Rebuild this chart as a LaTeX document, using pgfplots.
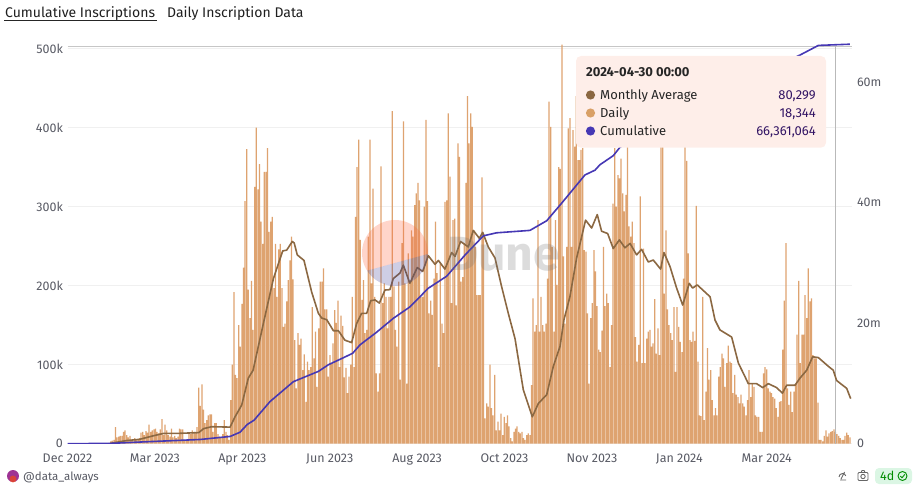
\documentclass[border=0pt]{standalone}
\usepackage{fontspec}
\setmainfont{Fira Sans}
\usepackage{pgfplots}
\pgfplotsset{compat=1.18}
\usepackage{xcolor}
\definecolor{monthly}{RGB}{139,104,66}
\definecolor{daily}{RGB}{222,163,112}
\definecolor{dailydot}{RGB}{217,160,102}
\definecolor{cumul}{RGB}{70,56,180}
\definecolor{ticktxt}{RGB}{88,90,100}
\definecolor{gridc}{RGB}{240,240,240}
\definecolor{tipbg}{RGB}{254,238,233}
\definecolor{tipval}{RGB}{50,20,100}
\definecolor{coral}{RGB}{255,105,65}
\definecolor{wmblue}{RGB}{60,60,150}
\newcommand{\tk}{\fontsize{12.5}{15}\selectfont}
\begin{document}
\begin{tikzpicture}[x=1pt,y=1pt]
\path[use as bounding box] (0,0) rectangle (914,491);
\begin{axis}[
  at={(67.5pt,47.3pt)}, anchor=south west, scale only axis,
  width=784pt, height=400.7pt,
  xmin=0, xmax=490, ymin=0, ymax=507.2,
  axis line style={draw=none}, tick style={draw=none},
  axis x line*=bottom, axis y line*=left,
  xtick={0,54.6,109.3,163.9,218.5,273.1,327.8,382.4,437},
  xticklabels={Dec 2022,Mar 2023,Apr 2023,Jun 2023,Aug 2023,Oct 2023,Nov 2023,Jan 2024,Mar 2024},
  ytick={0,100,200,300,400,500},
  yticklabels={0,100k,200k,300k,400k,500k},
  ymajorgrids, grid style={gridc, line width=.8pt},
  extra y ticks={503.4}, extra y tick labels={},
  extra y tick style={grid style={gray!45, line width=.8pt}},
  ticklabel style={font=\tk, text=ticktxt},
  yticklabel style={xshift=-1pt},
  xticklabel style={yshift=-7pt},
]
\addplot[ybar, bar width=1.25pt, fill=daily, draw=none] coordinates {
(26,1)(27,3)(28,4)(29,5)(30,21)(31,8)(32,9)(33,10)(34,10)(35,15)(36,17)(37,11)(38,8)(39,10)(40,5)(41,4)(42,7)(43,5)(44,5)(45,7)
(46,14)(47,15)(48,11)(49,16)(50,14)(51,24)(52,15)(53,17)(54,18)(55,19)(56,15)(57,13)(58,18)(59,31)(60,11)(61,24)(62,17)(63,11)(64,9)(65,19)
(66,8)(67,10)(68,7)(69,9)(70,19)(71,18)(72,18)(73,5)(74,4)(75,4)(76,13)(77,12)(78,17)(79,15)(80,13)(81,21)(82,71)(83,48)(84,75)(85,43)
(86,26)(87,30)(88,36)(89,37)(90,37)(91,15)(92,26)(93,26)(94,12)(95,9)(96,8)(97,12)(98,30)(99,15)(100,11)(101,5)(102,55)(103,100)(104,192)(105,87)
(106,83)(107,150)(108,123)(109,177)(110,223)(111,307)(112,373)(113,195)(114,159)(115,206)(116,144)(117,325)(118,400)(119,322)(120,354)(121,281)(122,253)(123,344)(124,344)(125,374)
(126,268)(127,281)(128,287)(129,197)(130,253)(131,186)(132,246)(133,253)(134,197)(135,148)(136,152)(137,180)(138,207)(139,232)(140,262)(141,208)(142,131)(143,70)(144,140)(145,125)
(146,133)(147,93)(148,113)(149,53)(150,104)(151,93)(152,97)(153,173)(154,108)(155,142)(156,72)(157,146)(158,205)(159,205)(160,222)(161,170)(162,170)(163,85)(164,112)(165,102)
(166,127)(167,169)(168,153)(169,181)(170,97)(171,162)(172,149)(173,84)(174,96)(175,64)(176,85)(177,100)
(178,186)(179,97)(180,287)(181,350)(182,385)(183,258)(184,182)(185,207)(186,140)(187,144)(188,262)(189,385)(190,203)(191,323)(192,186)(193,89)(194,66)(195,89)(196,351)(197,178)
(198,203)(199,186)(200,146)(201,186)(202,186)(203,421)(204,199)(205,144)(206,123)(207,205)(208,81)(209,254)(210,408)(211,203)(212,76)(213,241)(214,203)(215,270)(216,262)(217,302)
(218,317)(219,330)(220,308)(221,186)(222,186)(223,300)(224,410)(225,307)(226,165)(227,181)(228,163)(229,209)(230,281)(231,216)(232,97)(233,228)(234,152)(235,140)(236,306)(237,308)
(238,418)(239,338)(240,178)(241,283)(242,285)(243,175)(244,380)(245,363)(246,205)(247,211)(248,254)(249,330)(250,440)(251,380)(252,418)(253,401)(254,270)(255,249)(256,188)(257,188)
(258,188)(259,337)(260,266)(261,32)(262,51)(263,47)(264,100)(265,45)(266,36)(267,87)(268,17)(269,28)(270,17)(271,38)(272,11)(273,34)(274,26)(275,36)(276,22)(277,7)
(278,3)(279,15)(280,19)(281,22)(282,15)(283,13)(284,15)(285,7)(286,5)(287,11)(288,13)(289,11)(290,74)(291,184)(292,142)(293,150)(294,283)(295,142)(296,186)(297,150)
(298,142)(299,152)(300,209)(301,433)(302,401)(303,249)(304,142)(305,283)(306,201)(307,350)(308,348)(309,505)(310,237)(311,152)(312,249)(313,399)(314,412)(315,249)(316,397)(317,376)
(318,440)(319,359)(320,359)(321,372)(322,374)(323,245)(324,243)(325,165)(326,76)(327,159)(328,178)(329,245)(330,218)(331,174)(332,119)(333,116)(334,143)(335,249)(336,174)(337,190)
(338,178)(339,97)(340,150)(341,304)(342,374)(343,300)(344,340)
(345,336)(346,361)(347,317)(348,294)(349,315)(350,376)(351,275)(352,262)(353,281)(354,254)(355,135)(356,104)(357,125)(358,313)(359,102)(360,247)(361,102)(362,133)(363,142)(364,144)
(365,123)(366,127)(367,183)(368,114)(369,146)(370,112)(371,378)(372,378)(373,190)(374,270)(375,170)(376,150)(377,140)(378,131)(379,173)(380,91)(381,173)(382,148)(383,129)(384,116)
(385,209)(386,390)(387,358)(388,241)(389,131)(390,129)(391,142)(392,130)(393,301)(394,104)(395,36)(396,35)(397,186)(398,30)(399,66)(400,121)(401,81)(402,93)(403,55)(404,36)
(405,45)(406,36)(407,85)(408,97)(409,114)(410,108)(411,72)(412,102)(413,124)(414,104)(415,102)(416,64)(417,87)(418,62)(419,59)(420,51)(421,62)(422,51)(423,47)(424,36)
(425,55)(426,93)(427,59)(428,76)(429,72)(430,36)(431,34)(432,34)(433,15)(434,15)(435,89)(436,97)(437,94)(438,70)(439,66)(440,64)(441,59)(442,57)(443,45)(444,34)
(445,53)(446,54)(447,119)(448,181)(449,254)(450,70)(451,49)(452,66)(453,40)(454,66)(455,76)(456,138)(457,206)(458,102)(459,138)(460,138)(461,188)(462,159)(463,222)(464,180)
(465,184)(466,112)(467,108)(468,108)(469,52)(470,5)(471,5)(472,3)(473,10)(474,17)(475,9)(476,13)(477,15)(478,16)(479,18)(480,15)(481,12)(482,10)(483,7)(484,5)
(485,5)(486,10)(487,14)(488,11)(489,8)
};
% crosshair at 2024-04-30
\addplot[gray!55, line width=.8pt] coordinates {(479.7,0)(479.7,503.4)};
% monthly average
\addplot[monthly, line width=1.6pt, line join=round] coordinates {
(26.6,0.4)(37,4)(45,5.5)(53.6,10)(60,13)(68,13)(82,14)(85,19)(90,21.5)(101.6,21)(104.7,34)(108.9,49)(113,83)(116,93)(122.4,152)(128.7,209)(134.5,244)(137,245)(140.5,256)(141.7,254)(143.6,239)(147.8,232)(152.6,192)(156.8,165)(158.9,159)(162,157)(166.2,143)(169.3,143)(173.4,131)(177.6,128)
(180.7,152)(183.8,165)(187,165)(189.5,181)(192.2,182)(194.9,178)(198.4,194.5)(201.5,195)(203.6,209)(207.8,216)(209.9,226)(214,203)(218.6,223)(222,218)(225.5,238)(229.7,227)(231.8,232)(235.9,221)(240.1,242)(242.2,237)(245.7,256)(250.5,249)(253.6,270)(257.4,260)(259.5,267.5)(263,249)(267.2,235)(271.3,199)(275.5,165)(279.7,133)(284.9,68)(290.5,34)(294.3,51)(299.5,62)(303.6,97.5)(307.8,123)(310.3,157)(314,186)(318.2,235)(323.8,283)(327.6,273)(331.1,290)(333.8,269)(337.6,266)(341.1,247)(344.9,258)
(348.4,248)(351.6,253.5)(355.7,239)(358.8,246)(363,230)(366.1,232.5)(370.7,221)(372.8,242)(376.6,224)(380.7,197)(384.5,175.5)(388.6,203)(390.7,197)(393.6,201)(401.6,186)(404.7,156.5)(407.8,144)(415.1,135)(419.3,102)(423.4,85)(425.5,76)(430.7,76)(434.5,71)(438,76)(443.2,71)(446.8,64)(449.5,74)(454.7,74)(457.8,83)(462,93)(465.7,110)(469.3,109)(475.5,98)(478.6,93)(480.7,80)(487,70)(489.5,57)
};
\end{axis}
\begin{axis}[
  at={(67.5pt,47.3pt)}, anchor=south west, scale only axis,
  width=784pt, height=400.7pt,
  xmin=0, xmax=490, ymin=0, ymax=66.5,
  axis line style={draw=none}, tick style={draw=none},
  axis x line=none, axis y line*=right,
  ytick={0,20,40,60}, yticklabels={0,20m,40m,60m},
  ticklabel style={font=\tk, text=ticktxt},
  yticklabel style={xshift=2pt},
]
\addplot[cumul, line width=1.6pt, line join=round] coordinates {
(0,0)(26.6,0.05)(47.4,0.3)(82.8,0.7)(101.6,1.2)(107.8,1.9)(112.4,3.2)(116.6,3.9)(126.6,7)(137,9.35)(141.2,10.3)(156.8,12)(163,13.1)(170.3,14)(178.2,15)(182.8,16.4)(193.2,18.5)(203.6,20.8)(214,22.7)(225.5,25.8)(237,27.8)(248.4,31.3)(259.9,34.5)(268.2,35)(289,35.4)(299.5,37)(308.8,39.9)(323.4,44.6)(329.7,45.4)(332.8,46.3)(341.1,47.8)(345.3,49.2)(370,53)(400,57)(430,61)(457.8,64.5)(469.3,66.1)(489,66.3)
};
\end{axis}
% Dune watermark
\begin{scope}[shift={(395,238)}]
\clip (0,0) circle (33);
\fill[coral, opacity=.28] (-40,-21) -- (40,1) -- (40,40) -- (-40,40) -- cycle;
\fill[wmblue, opacity=.25] (-40,-21) -- (40,1) -- (40,-40) -- (-40,-40) -- cycle;
\end{scope}
\node[anchor=base west, inner sep=0, text=black!55, opacity=.25, font=\fontsize{48}{50}\selectfont\bfseries] at (447,221) {Dune};
% tooltip
\fill[tipbg, rounded corners=5pt] (576,343.3) rectangle (826,435);
\node[anchor=base west, inner sep=0, font=\fontsize{13}{15}\selectfont\bfseries, text=black!85] at (586,414) {2024-04-30 00:00};
\fill[monthly] (590.5,396) circle (4.6);
\fill[dailydot] (590.5,378) circle (4.6);
\fill[cumul] (590.5,360) circle (4.6);
\begin{scope}[every node/.style={inner sep=0, font=\fontsize{13}{15}\selectfont}]
\node[anchor=base west, text=black!85] at (600,391.5) {Monthly Average};
\node[anchor=base west, text=black!85] at (600,373.5) {Daily};
\node[anchor=base west, text=black!85] at (600,355.5) {Cumulative};
\node[anchor=base east, text=tipval] at (816,391.5) {80,299};
\node[anchor=base east, text=tipval] at (816,373.5) {18,344};
\node[anchor=base east, text=tipval] at (816,355.5) {66,361,064};
\end{scope}
% tabs
\node[anchor=base west, inner sep=0, font=\fontsize{14}{16}\selectfont, text=black!88] at (5,473) {Cumulative Inscriptions};
\draw[black!85, line width=.9pt] (4,470.2) -- (157,470.2);
\node[anchor=base west, inner sep=0, font=\fontsize{14}{16}\selectfont, text=black!88] at (167,473) {Daily Inscription Data};
% footer
\fill[purple!70!blue!80] (13,15) circle (6);
\fill[orange!60!red, opacity=.6] (13,12) circle (3.5);
\node[anchor=base west, inner sep=0, font=\fontsize{11.5}{14}\selectfont, text=ticktxt] at (23,10.5) {@data\_always};
% icons
\draw[black!60, line width=.9pt] (840,11) -- (846,11) (839,14) arc (180:20:3.5) (844.5,19) -- (841,12);
\draw[black!60, line width=.9pt, rounded corners=1pt] (858,10.5) rectangle (868,18.5);
\draw[black!60, line width=.9pt] (863,14.5) circle (2.2);
\draw[black!60, line width=.9pt] (861,18.5) -- (862,20.5) -- (864,20.5) -- (865,18.5);
\fill[green!50!teal!14, rounded corners=4pt] (875,7) rectangle (912,23);
\node[anchor=base west, inner sep=0, font=\fontsize{12.5}{15}\selectfont, text=green!55!black] at (880,10.5) {4d};
\draw[green!55!black, line width=.9pt] (902.5,15) circle (4.5);
\draw[green!55!black, line width=.9pt] (900.3,15) -- (902,13.2) -- (904.8,16.6);
\end{tikzpicture}
\end{document}
